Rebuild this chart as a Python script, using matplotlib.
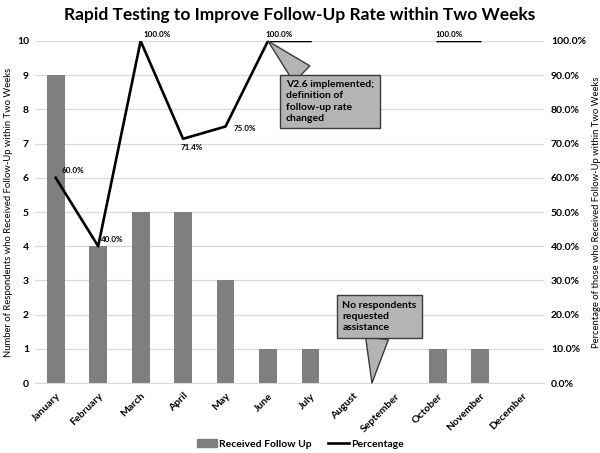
import numpy as np
import matplotlib.pyplot as plt
from matplotlib.ticker import PercentFormatter
from matplotlib.lines import Line2D
from matplotlib.patches import Patch

plt.rcParams['font.family'] = ['Lato', 'DejaVu Sans']

months = ['January', 'February', 'March', 'April', 'May', 'June', 'July',
          'August', 'September', 'October', 'November', 'December']
received = [9, 4, 5, 5, 3, 1, 1, 0, 0, 1, 1, 0]
pct = [0.60, 0.40, 1.00, 0.714, 0.75, 1.00, 1.00, np.nan, np.nan, 1.00, 1.00, np.nan]
# which points carry a data label, and where it goes
label_idx = [0, 1, 2, 3, 4, 5, 9]
label_off = [(4, 3), (2, 2), (2, 2), (-2, -9), (6, -4), (-2, 2), (-2, 2)]

fig = plt.figure(figsize=(6, 4.53), dpi=100)
ax = fig.add_axes([0.0575, 0.1545, 0.849, 0.755])
x = np.arange(len(months))

ax.bar(x, received, width=0.42, color='#7f7f7f', zorder=2)
ax.set_xlim(-0.5, 11.5)
ax.set_ylim(0, 10)
ax.set_yticks(range(0, 11))
ax.grid(axis='y', color='#d9d9d9', lw=0.9, zorder=0)
ax.set_axisbelow(True)
for s in ['top', 'right', 'left']:
    ax.spines[s].set_visible(False)
ax.spines['bottom'].set_color('#d9d9d9')
ax.tick_params(length=0, labelsize=7.5, pad=6)
ax.tick_params(axis='y', pad=4)
ax.set_xticks(x)
ax.set_xticklabels(months, rotation=45, ha='right', rotation_mode='anchor',
                   fontweight='bold')
for t in ax.get_yticklabels():
    t.set_fontweight('bold')
ax.set_ylabel('Number of Respondents who Received Follow-Up within Two Weeks',
              fontsize=6.8, labelpad=3)

ax2 = ax.twinx()
ax2.plot(x, pct, color='black', lw=1.9, zorder=3)
ax2.set_ylim(0, 1)
ax2.set_yticks(np.arange(0, 1.01, 0.1))
ax2.yaxis.set_major_formatter(PercentFormatter(1.0, decimals=1))
for s in ax2.spines.values():
    s.set_visible(False)
ax2.tick_params(length=0, labelsize=7.5, pad=5)
for t in ax2.get_yticklabels():
    t.set_fontweight('bold')
ax2.set_ylabel('Percentage of those who Received Follow-Up within Two Weeks',
               fontsize=6.8, labelpad=4)

for i, (dx, dy) in zip(label_idx, label_off):
    ax2.annotate(f'{pct[i]*100:.1f}%', (x[i], pct[i]), xytext=(dx, dy),
                 textcoords='offset points', fontsize=5.8, fontweight='bold',
                 ha='left', va='bottom')

box = dict(boxstyle='square,pad=0.55', fc='#b4b4b4', ec='#3a3a3a', lw=1)
ax2.annotate('V2.6 implemented;\ndefinition of\nfollow-up rate\nchanged',
             xy=(5, 1.0), xytext=(5.42, 0.885), fontsize=7.5, fontweight='bold',
             ha='left', va='top', linespacing=1.3, bbox=box,
             arrowprops=dict(arrowstyle='wedge,tail_width=2.2', fc='#b4b4b4',
                             ec='#3a3a3a', lw=1, shrinkA=0, shrinkB=0))
ax2.annotate('No respondents\nrequested\nassistance',
             xy=(7.45, 0.0), xytext=(6.75, 0.24), fontsize=7.5, fontweight='bold',
             ha='left', va='top', linespacing=1.3, bbox=box,
             arrowprops=dict(arrowstyle='wedge,tail_width=2.2', fc='#b4b4b4',
                             ec='#3a3a3a', lw=1, shrinkA=0, shrinkB=0))

fig.suptitle('Rapid Testing to Improve Follow-Up Rate within Two Weeks',
             fontsize=12.5, fontweight='bold', y=0.985)

handles = [Patch(color='#7f7f7f'), Line2D([], [], color='black', lw=1.9)]
fig.legend(handles, ['Received Follow Up', 'Percentage'], loc='center',
           bbox_to_anchor=(0.5, 0.02), ncol=2, frameon=False,
           prop={'size': 7.5, 'weight': 'bold'}, handlelength=2,
           handletextpad=0.2, columnspacing=1.5)

fig.savefig('out.png', dpi=100)
